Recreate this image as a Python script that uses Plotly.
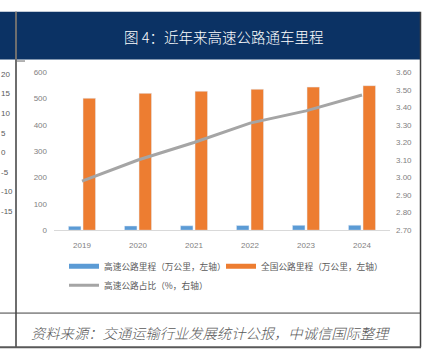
import plotly.graph_objects as go

years = ["2019", "2020", "2021", "2022", "2023", "2024"]
expressway_km = [14.96, 16.10, 16.91, 17.73, 18.36, 19.07]      # 万公里
national_km = [501.25, 519.81, 528.07, 535.48, 543.68, 549.04]   # 万公里
share_pct = [2.98, 3.10, 3.20, 3.31, 3.38, 3.47]                 # %
left_panel_ticks = [20, 15, 10, 5, 0, -5, -10, -15]
left_panel_labels = ["20", "15", "10", "5", "0", "-5", "-10", "-15"]

name_blue = "高速公路里程（万公里，左轴）"
name_orange = "全国公路里程（万公里，左轴）"
name_gray = "高速公路占比（%，右轴）"
title_text = "图 4：近年来高速公路通车里程"
source_text = "资料来源：交通运输行业发展统计公报，中诚信国际整理"

W, H = 423, 360
BLUE = "#5B9BD5"
ORANGE = "#ED7D31"
GRAY = "#A5A5A5"
TICK = "#7F7F7F"
CJK = "Noto Sans CJK SC"
NUM = "Liberation Sans"

def px(x):
    return x / W

def py(y):
    return 1 - y / H

fig = go.Figure()
fig.add_trace(go.Bar(x=years, y=expressway_km, name=name_blue, marker_color=BLUE,
                     showlegend=False, yaxis="y"))
fig.add_trace(go.Bar(x=years, y=national_km, name=name_orange, marker_color=ORANGE,
                     showlegend=False, yaxis="y"))
# legend proxies (line-style swatches like the original)
fig.add_trace(go.Scatter(x=[None], y=[None], mode="lines", name=name_blue,
                         line=dict(color=BLUE, width=5), yaxis="y"))
fig.add_trace(go.Scatter(x=[None], y=[None], mode="lines", name=name_orange,
                         line=dict(color=ORANGE, width=5), yaxis="y"))
fig.add_trace(go.Scatter(x=years, y=share_pct, mode="lines", name=name_gray,
                         line=dict(color=GRAY, width=3), yaxis="y2"))
# neighbouring (cut-off) chart's axis on the far left
fig.add_trace(go.Scatter(x=[None], y=[None], showlegend=False, yaxis="y3",
                         hoverinfo="skip"))

shapes = [
    dict(type="rect", xref="paper", yref="paper", x0=px(0), x1=px(420), y0=py(57), y1=py(8),
         fillcolor="#0B3264", line=dict(width=0), layer="below"),
    dict(type="line", xref="paper", yref="paper", x0=px(16), x1=px(16), y0=py(8), y1=py(352),
         line=dict(color="#6E6E6E", width=2)),
    dict(type="line", xref="paper", yref="paper", x0=px(420.5), x1=px(420.5), y0=py(8), y1=py(352),
         line=dict(color="#404040", width=1.5)),
    dict(type="line", xref="paper", yref="paper", x0=px(0), x1=px(421), y0=py(317), y1=py(317),
         line=dict(color="#404040", width=1)),
    dict(type="line", xref="paper", yref="paper", x0=px(0), x1=px(421), y0=py(352), y1=py(352),
         line=dict(color="#595959", width=2)),
    dict(type="line", xref="paper", yref="paper", x0=px(17), x1=px(25), y0=py(58.5), y1=py(58.5),
         line=dict(color="#9A9A9A", width=1.5)),
]

annotations = [
    dict(text=title_text, xref="paper", yref="paper", x=px(223), y=py(33),
         xanchor="center", yanchor="middle", showarrow=False,
         font=dict(family=CJK, size=14.5, color="white", weight=300)),
    dict(text="<i>" + source_text + "</i>", xref="paper", yref="paper", x=px(29), y=py(337),
         xanchor="left", yanchor="middle", showarrow=False,
         font=dict(family=CJK, size=14.3, color="#595959", weight=300)),
]

fig.update_layout(
    width=W, height=H, autosize=False,
    margin=dict(l=0, r=0, t=0, b=0, pad=0),
    paper_bgcolor="white", plot_bgcolor="rgba(0,0,0,0)",
    barmode="group", bargap=0.48, bargroupgap=0.14,
    shapes=shapes, annotations=annotations,
    showlegend=True,
    legend=dict(orientation="h", x=px(64), y=py(254), xanchor="left", yanchor="top",
                entrywidth=112, entrywidthmode="pixels", itemwidth=30,
                font=dict(family=CJK, size=8.7, color="#595959"),
                bgcolor="rgba(0,0,0,0)", tracegroupgap=0, traceorder="normal"),
    xaxis=dict(domain=[px(54), px(390)], showgrid=False, showline=True, linecolor="#D9D9D9",
               linewidth=1, ticks="", tickfont=dict(family=NUM, size=8, color=TICK),
               ticklabelstandoff=7, anchor="y"),
    yaxis=dict(domain=[py(232), py(70)], range=[0, 600], dtick=100, showgrid=False,
               zeroline=False, showline=False, ticks="",
               tickfont=dict(family=NUM, size=8, color=TICK), ticklabelstandoff=6),
    yaxis2=dict(overlaying="y", side="right", range=[2.70, 3.60], dtick=0.1, tickformat=".2f",
                showgrid=False, zeroline=False, showline=False, ticks="",
                tickfont=dict(family=NUM, size=8, color=TICK), ticklabelstandoff=5),
    yaxis3=dict(domain=[py(212.5), py(71.7)], range=[-15, 20], tickvals=left_panel_ticks,
                ticktext=left_panel_labels,
                side="right", anchor="free", position=0, showgrid=False, zeroline=False,
                showline=False, ticks="", tickfont=dict(family=NUM, size=8, color="#595959"),
                ticklabelstandoff=0),
)

fig.write_html("out.html", config={"displayModeBar": False},
               post_script="document.body.style.margin='0';document.body.style.overflow='hidden';")
